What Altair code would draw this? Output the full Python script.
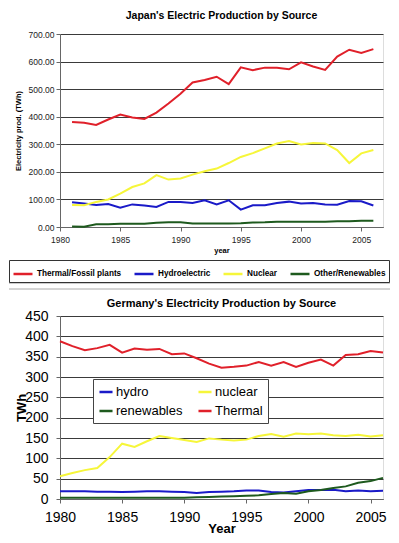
import altair as alt
import pandas as pd

# ---------------- Japan data ----------------
jp_years = list(range(1981, 2007))
jp_thermal = [381, 378, 370, 390, 408, 397, 392, 415, 448, 483, 524, 533, 545, 518, 579,
              569, 578, 578, 572, 597, 582, 570, 618, 643, 631, 645]
jp_hydro = [90, 85, 80, 83, 70, 82, 78, 73, 91, 91, 87, 97, 82, 97, 63,
            79, 79, 87, 92, 85, 87, 82, 81, 94, 93, 78]
jp_nuclear = [80, 79, 91, 100, 121, 145, 158, 188, 172, 176, 190, 202, 212, 232, 254,
              268, 285, 303, 312, 299, 305, 303, 279, 232, 267, 279]
jp_other = [2, 1, 10, 10, 12, 12, 12, 15, 17, 17, 13, 13, 13, 13, 14,
            16, 17, 19, 19, 19, 19, 19, 21, 21, 23, 23]
jp_sources = ["Thermal/Fossil plants", "Hydroelectric", "Nuclear", "Other/Renewables"]
jp_colors = ["#e0202a", "#1a1ac8", "#f6f63a", "#1e5a1e"]

# ---------------- Germany data ----------------
de_years = list(range(1980, 2007))
de_hydro = [19, 19, 19, 18, 18, 17, 18, 19, 19, 18, 17, 15, 17, 18, 19, 21, 21, 17, 16, 19,
            22, 22, 23, 19, 21, 19, 20]
de_nuclear = [56, 64, 71, 76, 103, 136, 128, 142, 155, 150, 145, 140, 149, 146, 144, 146,
              155, 160, 153, 161, 159, 161, 157, 155, 158, 154, 157]
de_renew = [3, 3, 3, 3, 3, 3, 3, 3, 3, 3, 3, 4, 5, 6, 7, 8, 9, 12, 15, 13, 19, 22, 27, 31,
            40, 44, 52]
de_thermal = [388, 376, 366, 371, 379, 360, 370, 367, 369, 356, 358, 346, 333, 323, 325,
              328, 337, 328, 337, 325, 335, 343, 328, 354, 356, 364, 360]
de_sources = ["hydro", "nuclear", "renewables", "Thermal"]
de_colors = ["#1a1ac8", "#f6f63a", "#1e5a1e", "#e0202a"]

x_ticks = [1980, 1985, 1990, 1995, 2000, 2005]
jp_ticks_y = [0, 100, 200, 300, 400, 500, 600, 700]
de_ticks_y = [0, 50, 100, 150, 200, 250, 300, 350, 400, 450]

FONT = "Liberation Sans"


def long_df(years, series, names):
    rows = []
    for k, (name, vals) in enumerate(zip(names, series)):
        for y, v in zip(years, vals):
            rows.append({"year": y, "value": v, "source": name, "k": k})
    return pd.DataFrame(rows)


jp_df = long_df(jp_years, [jp_thermal, jp_hydro, jp_nuclear, jp_other], jp_sources)
de_df = long_df(de_years, [de_hydro, de_nuclear, de_renew, de_thermal], de_sources)

one_row = alt.Data(values=[{"a": 1}])

# ---------------- Japan chart ----------------
jp_lines = alt.Chart(jp_df).mark_line(strokeWidth=2).encode(
    x=alt.X("year:Q", scale=alt.Scale(domain=[1980, 2006.8], nice=False, zero=False),
            axis=alt.Axis(values=x_ticks, format="d", title="year", grid=False, labelFlush=False,
                          labelFont=FONT, labelFontSize=8.5, labelColor="#222",
                          titleFont=FONT, titleFontSize=7.5, titleFontWeight="bold",
                          titlePadding=3, tickSize=4, tickColor="#666", domainColor="#666",
                          labelPadding=4)),
    y=alt.Y("value:Q", scale=alt.Scale(domain=[0, 700], nice=False),
            axis=alt.Axis(values=jp_ticks_y, format=".2f", title="Electricity prod. (TWh)",
                          gridColor="#3a3a3a", gridWidth=1, labelFlush=False,
                          labelFont=FONT, labelFontSize=8.5, labelColor="#222",
                          titleFont=FONT, titleFontSize=7.5, titleFontWeight="bold",
                          titlePadding=6, tickSize=4, tickColor="#666", domainColor="#666",
                          labelPadding=2)),
    color=alt.Color("source:N", scale=alt.Scale(domain=jp_sources, range=jp_colors),
                    legend=alt.Legend(orient="none", legendX=-51, legendY=226,
                                      direction="horizontal", title=None,
                                      symbolType="stroke", symbolSize=361, symbolStrokeWidth=2.5,
                                      labelFont=FONT, labelFontSize=8.2, labelFontWeight="bold",
                                      labelColor="#000", columnPadding=7, labelOffset=3,
                                      strokeColor="#333", padding=3, labelLimit=200)),
    order="k:Q",
)

jp_sep1 = alt.Chart(one_row).mark_rule(color="#999", strokeWidth=1).encode(
    x=alt.value(-51), x2=alt.value(330), y=alt.value(249))
jp_sep2 = alt.Chart(one_row).mark_rule(color="#aaa", strokeWidth=1).encode(
    x=alt.value(-51), x2=alt.value(330), y=alt.value(255))

jp_chart = alt.layer(jp_lines, jp_sep1, jp_sep2).properties(
    width=323, height=193,
    title=alt.TitleParams("Japan's Electric Production by Source", font=FONT, fontSize=10.5,
                          fontWeight="bold", anchor="middle", color="#000", offset=9))

# ---------------- Germany chart ----------------
de_chart = alt.Chart(de_df).mark_line(strokeWidth=2).encode(
    x=alt.X("year:Q", scale=alt.Scale(domain=[1980, 2006], nice=False, zero=False),
            axis=alt.Axis(values=x_ticks, format="d", title="Year", grid=False, labelFlush=False,
                          labelFont=FONT, labelFontSize=14, labelColor="#000",
                          titleFont=FONT, titleFontSize=13, titleFontWeight="bold",
                          titlePadding=-2, tickSize=4, tickColor="#666", domainColor="#666",
                          labelPadding=7)),
    y=alt.Y("value:Q", scale=alt.Scale(domain=[0, 450], nice=False),
            axis=alt.Axis(values=de_ticks_y, title="TWh", labelFlush=False,
                          gridColor="#3a3a3a", gridWidth=1, titleX=-32,
                          labelFont=FONT, labelFontSize=14, labelColor="#000",
                          titleFont=FONT, titleFontSize=13, titleFontWeight="bold",
                          tickSize=4, tickColor="#666", domainColor="#666",
                          labelPadding=8)),
    color=alt.Color("source:N", scale=alt.Scale(domain=de_sources, range=de_colors),
                    legend=alt.Legend(orient="none", legendX=33, legendY=63,
                                      direction="horizontal", columns=2, title=None,
                                      symbolType="stroke", symbolSize=170, symbolStrokeWidth=2.5,
                                      labelFont=FONT, labelFontSize=13,
                                      labelColor="#000", columnPadding=10, rowPadding=4,
                                      labelOffset=2, strokeColor="#444", fillColor="#fff",
                                      padding=5)),
    order="k:Q",
).properties(
    width=323, height=183,
    title=alt.TitleParams("Germany's Electricity Production by Source", font=FONT, fontSize=11,
                          fontWeight="bold", anchor="middle", color="#000", offset=0))

chart = alt.concat(jp_chart, de_chart, columns=1, spacing=7, align="none").resolve_scale(
    color="independent").properties(
    padding={"left": 0, "top": 2, "right": 0, "bottom": 0}).configure_view(
    stroke="#bbb").configure(background="#fff")

chart.save("out.html", embed_options={"renderer": "svg", "actions": False})
